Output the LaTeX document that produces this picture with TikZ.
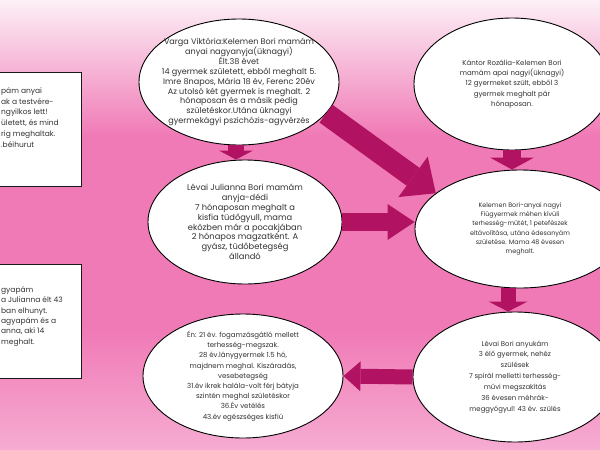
\documentclass[tikz,border=0pt]{standalone}
\usepackage{fontspec}
\setmainfont{Poppins}
\usetikzlibrary{shapes.geometric,arrows.meta}
\definecolor{ptop}{RGB}{252,240,246}
\definecolor{pmid}{RGB}{240,122,182}
\definecolor{pbot}{RGB}{246,172,210}
\definecolor{arrc}{RGB}{178,18,98}
\definecolor{txt}{RGB}{50,50,50}
\tikzset{
  ell/.style={ellipse, draw=black, line width=0.9pt, fill=white, inner sep=-30pt, text=txt, align=center},
  infobox/.style={rectangle, draw=black!90, line width=1.3pt, fill=white, inner sep=0pt, text=txt, anchor=north west},
  blockarrow/.style n args={3}{draw=arrc, line width=#1, -{Triangle[width=#2, length=#3, line width=0pt]}},
}
\newcommand{\fsz}[2]{\fontsize{#1}{#2}\selectfont}
\begin{document}
\begin{tikzpicture}[x=1pt,y=1pt]
\useasboundingbox (0,0) rectangle (600,-450);
\clip (0,0) rectangle (600,-450);
% background
\shade[top color=ptop, bottom color=pmid] (0,0) rectangle (600,-136);
\fill[pmid] (0,-135) rectangle (600,-331);
\shade[top color=pmid, bottom color=pbot] (0,-330) rectangle (600,-450);

% left boxes (cut by the left edge)
\node[infobox, font=\fsz{7.5}{10.7}] (b1) at (-8,-72)
  {\parbox[t][114pt][t]{89pt}{\raggedright\leftskip=8.5pt\vspace*{15pt}%
  pám anyai\\ak a testvére-\\ngyilkos lett!\\ületett, és mind\\rig meghaltak.\\.béihurut}};
\node[infobox, font=\fsz{7.5}{10.3}] (b2) at (-8,-264)
  {\parbox[t][114pt][t]{89pt}{\raggedright\leftskip=8.5pt\vspace*{22pt}%
  gyapám\\a Julianna élt 43\\ban elhunyt.\\agyapám és a\\anna, aki 14\\meghalt.}};

% ellipses
\node[ell, minimum width=200pt, minimum height=126pt, font=\fsz{8.1}{9.9}] (e1) at (239,-82)
  {Varga Viktória:Kelemen Bori mamám\\anyai nagyanyja(üknagyi)\\Élt.38 évet\\14 gyermek született, ebből meghalt 5.\\Imre 8napos, Mária 18 év, Ferenc 20év\\Az utolsó két gyermek is meghalt. 2\\hónaposan és a másik pedig\\születéskor.Utána üknagyi\\gyermekágyi pszichózis-agyvérzés};
\node[ell, minimum width=196pt, minimum height=132pt, font=\fsz{7.0}{10.2}] (e2) at (512,-84)
  {Kántor Rozália-Kelemen Bori\\mamám apai nagyi(üknagyi)\\12 gyermeket szült, ebből 3\\gyermek meghalt pár\\hónaposan.};
\node[ell, minimum width=194pt, minimum height=124pt, font=\fsz{8.3}{9.8}] (e3) at (245,-222)
  {Lévai Julianna Bori mamám\\anyja-dédi\\7 hónaposan meghalt a\\kisfia tüdőgyull, mama\\eközben már a pocakjában\\2 hónapos magzatként. A\\gyász, tüdőbetegség\\állandó};
\node[ell, minimum width=210pt, minimum height=118pt, font=\fsz{6.4}{9.3}] (e4) at (520,-229)
  {Kelemen Bori-anyai nagyi\\Fiúgyermek méhen kívüli\\terhesség-műtét, 1 petefészek\\eltávolítása, utána édesanyám\\születése. Mama 48 évesen\\meghalt.};
\node[ell, minimum width=204pt, minimum height=130pt, font=\fsz{6.9}{10.9}] (e5) at (515,-377)
  {Lévai Bori anyukám\\3 élő gyermek, nehéz\\szülések\\7 spirál melletti terhesség-\\művi megszakítás\\36 évesen méhrák-\\meggyógyul! 43 év. szülés};
\node[ell, minimum width=200pt, minimum height=124pt, font=\fsz{7.0}{10.2}] (e6) at (243,-376)
  {Én: 21 év. fogamzásgátló mellett\\terhesség-megszak.\\28 év.lánygyermek 1.5 hó,\\majdnem meghal. Kiszáradás,\\vesebetegség\\31.év ikrek halála-volt férj bátyja\\szintén meghal születéskor\\36.Év vetélés\\43.év egészséges kisfiú};

% block arrows
\draw[blockarrow={16pt}{34pt}{9pt}] ([xshift=-3pt]e1.south) -- ([xshift=-3pt]e1.south |- e3.north);
\draw[blockarrow={22pt}{50pt}{28pt}] (e1.-20) -- (e4.157);
\draw[blockarrow={18pt}{36pt}{27pt}] (e3.east) -- (e4.west |- e3.east);
\draw[blockarrow={18pt}{44pt}{12pt}] (e2.south) -- (e2.south |- e4.north);
\draw[blockarrow={15pt}{39pt}{10pt}] ([xshift=-12pt]e4.south) -- ([xshift=-12pt]e4.south |- e5.north);
\draw[blockarrow={15pt}{30pt}{17pt}] (e5.west) -- (e6.east);
\end{tikzpicture}
\end{document}
